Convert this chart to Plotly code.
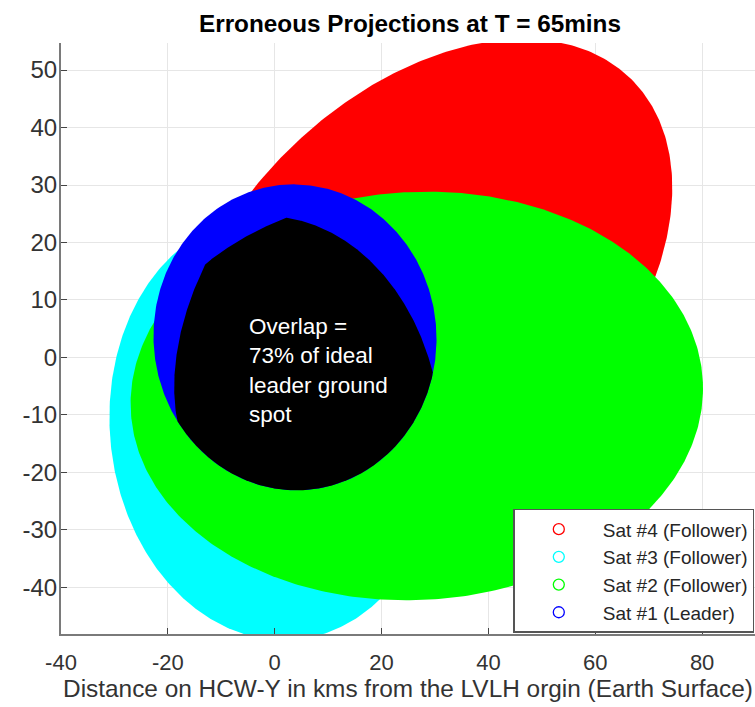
import numpy as np
import plotly.graph_objects as go

# Ground-spot footprints (ellipses), in km
sat_names = ["Sat #4 (Follower)", "Sat #3 (Follower)", "Sat #2 (Follower)", "Sat #1 (Leader)"]
center_x = [27.8, 0.1, 26.6, 3.8]
center_y = [12.2, -12.3, -6.7, 3.5]
semi_major = [53.3, 37.0, 53.6, 26.7]
semi_minor = [34.6, 30.9, 35.5, 26.4]
tilt_deg = [39.6, 98.3, 2.5, 123.3]
fill_colors = ["#ff0000", "#00ffff", "#00ff00", "#0000ff"]

x_ticks = [-40, -20, 0, 20, 40, 60, 80]
x_tick_text = ["-40", "-20", "0", "20", "40", "60", "80"]
y_ticks = [-40, -30, -20, -10, 0, 10, 20, 30, 40, 50]
y_tick_text = ["-40", "-30", "-20", "-10", "0", "10", "20", "30", "40", "50"]
overlap_label = "Overlap =<br>73% of ideal<br>leader ground<br>spot"

FONT = "Liberation Sans, Arial, sans-serif"


def ellipse(cx, cy, a, b, ang, n=500):
    t = np.linspace(0, 2 * np.pi, n)
    th = np.radians(ang)
    X, Y = a * np.cos(t), b * np.sin(t)
    return cx + X * np.cos(th) - Y * np.sin(th), cy + X * np.sin(th) + Y * np.cos(th)


def ray_dist(px, py, phi, cx, cy, a, b, ang):
    th = np.radians(ang)
    c, s = np.cos(-th), np.sin(-th)
    qx0, qy0 = px - cx, py - cy
    qx, qy = c * qx0 - s * qy0, s * qx0 + c * qy0
    dx0, dy0 = np.cos(phi), np.sin(phi)
    ux, uy = c * dx0 - s * dy0, s * dx0 + c * dy0
    A = ux ** 2 / a ** 2 + uy ** 2 / b ** 2
    B = 2 * (qx * ux / a ** 2 + qy * uy / b ** 2)
    C = qx ** 2 / a ** 2 + qy ** 2 / b ** 2 - 1
    return (-B + np.sqrt(B ** 2 - 4 * A * C)) / (2 * A)


fig = go.Figure()

# filled footprints (drawn in order Sat #4, #3, #2, #1)
for i in range(4):
    X, Y = ellipse(center_x[i], center_y[i], semi_major[i], semi_minor[i], tilt_deg[i])
    fig.add_trace(go.Scatter(x=X, y=Y, mode="lines", fill="toself", fillcolor=fill_colors[i],
                             line=dict(width=0, color=fill_colors[i]), showlegend=False, hoverinfo="skip"))

# common overlap of all footprints (black)
px, py = 3.0, 0.0
phi = np.linspace(0, 2 * np.pi, 1500)
r = np.min([ray_dist(px, py, phi, center_x[i], center_y[i], semi_major[i], semi_minor[i], tilt_deg[i])
            for i in range(4)], axis=0)
fig.add_trace(go.Scatter(x=px + r * np.cos(phi), y=py + r * np.sin(phi), mode="lines", fill="toself",
                         fillcolor="#000000", line=dict(width=0, color="#000000"), showlegend=False,
                         hoverinfo="skip"))

# legend entries (open circles)
for i in range(4):
    fig.add_trace(go.Scatter(x=[None], y=[None], mode="markers", name=sat_names[i],
                             marker=dict(symbol="circle-open", size=11, color=fill_colors[i],
                                         line=dict(width=1.3, color=fill_colors[i]))))

fig.add_annotation(x=-5.1, y=-2.2, xref="x", yref="y", text=overlap_label, showarrow=False,
                   xanchor="left", yanchor="middle", align="left",
                   font=dict(family=FONT, size=22.5, color="white"))

fig.update_layout(
    width=755, height=707,
    margin=dict(l=61, r=0, t=43, b=73),
    plot_bgcolor="white", paper_bgcolor="white",
    title=dict(text="<b>Erroneous Projections at T = 65mins</b>", x=0.543, xref="container",
               xanchor="center", y=0.967, yref="container", yanchor="middle",
               font=dict(family=FONT, size=24.3, color="#000000")),
    legend=dict(x=0.999, y=0.002, xanchor="right", yanchor="bottom", bgcolor="white",
                bordercolor="#555555", borderwidth=1.5, itemwidth=78,
                font=dict(family=FONT, size=19, color="#262626"), tracegroupgap=0),
    showlegend=True,
)
fig.update_xaxes(range=[-40, 89.9], tickvals=x_ticks, ticktext=x_tick_text, showgrid=True,
                 gridcolor="#e6e6e6", gridwidth=1,
                 zeroline=False, showline=True, linecolor="#7a7a7a", linewidth=2,
                 ticks="inside", ticklen=6, tickcolor="#444444", tickwidth=1,
                 ticklabelstandoff=8,
                 tickfont=dict(family=FONT, size=22, color="#333333"),
                 title=dict(text="Distance on HCW-Y in kms from the LVLH orgin (Earth Surface)",
                            font=dict(family=FONT, size=24.4, color="#333333"), standoff=6))
fig.update_yaxes(range=[-48.1, 54.7], tickvals=y_ticks, ticktext=y_tick_text, showgrid=True,
                 gridcolor="#e6e6e6", gridwidth=1,
                 zeroline=False, showline=True, linecolor="#7a7a7a", linewidth=2,
                 ticks="inside", ticklen=6, tickcolor="#444444", tickwidth=1,
                 ticklabelstandoff=-3,
                 tickfont=dict(family=FONT, size=24, color="#333333"))

fig.write_html("out.html", config={"displayModeBar": False},
               post_script="document.body.style.margin='0px';document.body.style.overflow='hidden';")
